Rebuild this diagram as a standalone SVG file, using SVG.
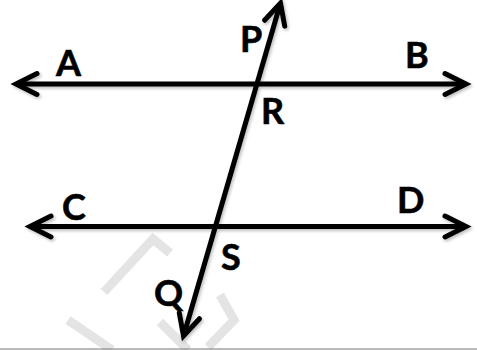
<svg xmlns="http://www.w3.org/2000/svg" width="477" height="350" viewBox="0 0 477 350">
  <style>
    .ln { stroke: #000; stroke-width: 5; fill: none; }
    .lbl { font-family: Lato, "Open Sans", "Liberation Sans", sans-serif; font-weight: bold; font-size: 36px; fill: #000; stroke: #000; stroke-width: 0.6; }
    .wm { stroke: #e4e4e4; stroke-width: 9; fill: none; stroke-linejoin: miter; }
  </style>
  <defs>
    <marker id="chev" viewBox="-30 -15 36 30" refX="0" refY="0" markerWidth="36" markerHeight="30" markerUnits="userSpaceOnUse" orient="auto-start-reverse">
      <path d="M -21 -10.5 L 0 0 L -21 10.5" fill="none" stroke="#000" stroke-width="5" stroke-linecap="round" stroke-linejoin="miter"/>
    </marker>
    <filter id="sh" x="-10%" y="-10%" width="120%" height="130%">
      <feDropShadow dx="1.5" dy="2" stdDeviation="1.5" flood-color="#000" flood-opacity="0.25"/>
    </filter>
  </defs>
  <rect width="477" height="350" fill="#fff"/>
  <g id="watermark">
    <path class="wm" d="M 170 253 L 153 239 L 104 292"/>
    <path class="wm" d="M 220 295 L 234 320 L 208 347"/>
    <path class="wm" d="M 160 322 L 188 350"/>
    <path class="wm" d="M 68 320 L 112 350"/>
  </g>
  <line x1="0" y1="349" x2="477" y2="349" stroke="#777" stroke-width="1.2"/>
  <g id="connectors" filter="url(#sh)">
    <line id="lineAB" class="ln" x1="16" y1="84" x2="466" y2="84" marker-start="url(#chev)" marker-end="url(#chev)"/>
    <line id="lineCD" class="ln" x1="30" y1="226.5" x2="466" y2="226.5" marker-start="url(#chev)" marker-end="url(#chev)"/>
    <line id="linePQ" class="ln" x1="280.5" y1="3" x2="183.5" y2="336" marker-start="url(#chev)" marker-end="url(#chev)"/>
  </g>
  <g id="A"><text class="lbl" x="56" y="76">A</text></g>
  <g id="B"><text class="lbl" x="405" y="68">B</text></g>
  <g id="P"><text class="lbl" x="240" y="52">P</text></g>
  <g id="R"><text class="lbl" x="261" y="124">R</text></g>
  <g id="C"><text class="lbl" x="62" y="220">C</text></g>
  <g id="D"><text class="lbl" x="397" y="213">D</text></g>
  <g id="S"><text class="lbl" x="221" y="270">S</text></g>
  <g id="Q"><text class="lbl" x="154" y="306">Q</text></g>
</svg>
